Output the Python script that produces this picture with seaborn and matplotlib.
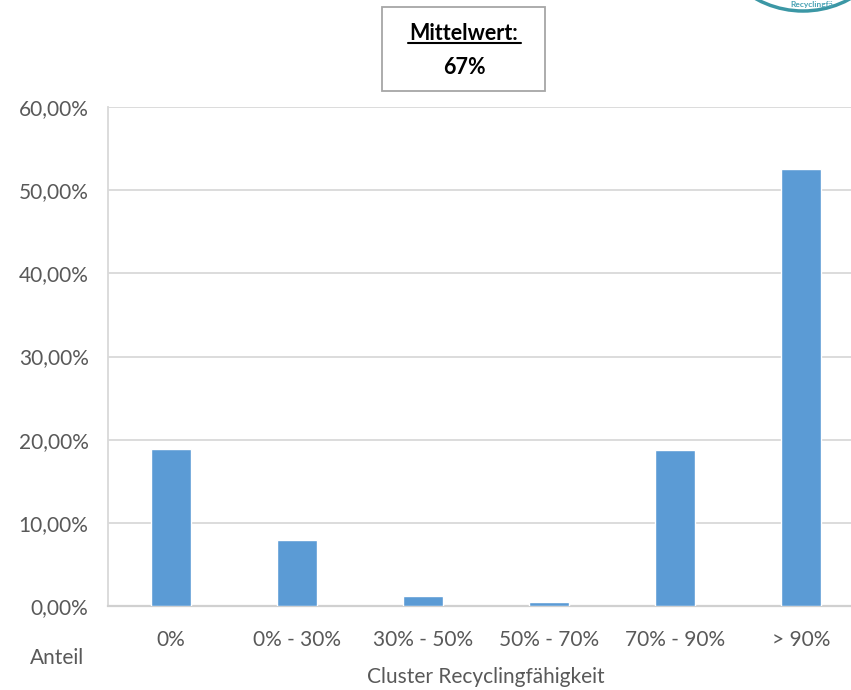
import pandas as pd
import matplotlib.pyplot as plt
import matplotlib.patches as mpatches
from matplotlib.ticker import FuncFormatter
import seaborn as sns

sns.set_theme(style="white")
plt.rcParams['font.family'] = ['Lato', 'DejaVu Sans']

# Daten
cluster = ['0%', '0% - 30%', '30% - 50%', '50% - 70%', '70% - 90%', '> 90%']
anteil = [18.87, 7.9, 1.17, 0.5, 18.8, 52.6]
mittelwert = '67%'

df = pd.DataFrame({'Cluster': cluster, 'Anteil': anteil})

W, H = 851, 690
fig = plt.figure(figsize=(W / 100, H / 100), dpi=100)
ax = fig.add_axes([108 / W, (H - 606) / H, 756 / W, 499 / H])

sns.barplot(data=df, x='Cluster', y='Anteil', color='#5b9bd5', width=0.31,
            saturation=1, ax=ax, zorder=3)

ax.set_xlim(-0.5, 5.5)
ax.set_ylim(0, 60)
ax.set_yticks(range(0, 61, 10))
ax.yaxis.set_major_formatter(FuncFormatter(lambda v, p: f'{v:.2f}%'.replace('.', ',')))
ax.grid(axis='y', color='#d9d9d9', linewidth=1.3, zorder=0)
for s in ['top', 'right']:
    ax.spines[s].set_visible(False)
ax.spines['left'].set_color('#d9d9d9')
ax.spines['left'].set_linewidth(1.3)
ax.spines['bottom'].set_color('#d0d0d0')
ax.spines['bottom'].set_linewidth(1.6)
ax.tick_params(axis='both', length=0, labelsize=15, labelcolor='#595959')
ax.tick_params(axis='y', pad=14)
ax.tick_params(axis='x', pad=17)
ax.set_xlabel('')
ax.set_ylabel('')

fig.text(57 / W, 1 - 658 / H, 'Anteil', ha='center', va='center',
         fontsize=15, color='#595959')
fig.text(486 / W, 1 - 677 / H, 'Cluster Recyclingfähigkeit', ha='center',
         va='center', fontsize=15, color='#595959')

# Mittelwert-Box
box = mpatches.Rectangle((382 / W, 1 - 91 / H), 163 / W, 84 / H,
                         transform=fig.transFigure, facecolor='white',
                         edgecolor='#a6a6a6', linewidth=1.3)
fig.add_artist(box)
fig.text(464 / W, 1 - 33 / H, 'Mittelwert:', ha='center', va='center',
         fontsize=15.5, fontweight='bold', color='#000000')
fig.add_artist(plt.Line2D([408 / W, 521 / W], [1 - 43 / H, 1 - 43 / H],
                          transform=fig.transFigure, color='black', linewidth=1.5))
fig.text(464 / W, 1 - 67 / H, mittelwert, ha='center', va='center',
         fontsize=15.5, fontweight='bold', color='#000000')

# Logo-Rest oben rechts
logo = mpatches.Ellipse((803 / W, 1 + 86 / H), 194 / W, 194 / H,
                        transform=fig.transFigure, facecolor='white',
                        edgecolor='#3b97a5', linewidth=2.5)
fig.add_artist(logo)
fig.text(812 / W, 1 - 4 / H, 'Recyclingfä', ha='center', va='center', fontsize=6,
         fontweight='bold', color='#4aa3b5')

fig.savefig('out.png', dpi=100)
